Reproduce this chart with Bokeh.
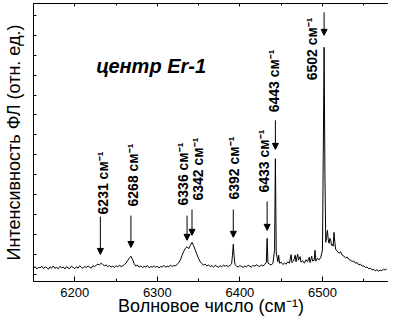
from math import pi
from bokeh.plotting import figure
from bokeh.models import (ColumnDataSource, LinearAxis, SingleIntervalTicker,
                          FixedTicker, Arrow, NormalHead, Label)
from bokeh.core.properties import value
from bokeh.embed import file_html
from bokeh.resources import INLINE

# ---- spectrum (wavenumber, cm^-1 ; PL intensity, arb. units) ----
wavenumber = [
    6150, 6152, 6154, 6156, 6158, 6160, 6162, 6164, 6166, 6168, 6170, 6172, 6174, 6176, 6178,
    6180, 6182, 6184, 6186, 6188, 6190, 6192, 6194, 6196, 6198, 6200, 6202, 6204, 6206, 6208,
    6210, 6212, 6214, 6216, 6218, 6220, 6222, 6224, 6226, 6228, 6230, 6232, 6234, 6236, 6238,
    6240, 6242, 6244, 6246, 6248, 6250, 6252, 6254, 6256, 6258, 6260, 6262, 6264, 6266, 6268,
    6270, 6272, 6274, 6276, 6278, 6280, 6282, 6284, 6286, 6288, 6290, 6292, 6294, 6296, 6298,
    6300, 6302, 6304, 6306, 6308, 6310, 6312, 6314, 6316, 6318, 6320, 6322, 6324, 6326, 6328,
    6330, 6332, 6334, 6336, 6338, 6340, 6342, 6344, 6346, 6348, 6350, 6352, 6354, 6356, 6358,
    6360, 6362, 6364, 6366, 6368, 6370, 6372, 6374, 6376, 6378, 6380, 6382, 6384, 6386, 6388,
    6390, 6391, 6392, 6393, 6394, 6396, 6398, 6400, 6402, 6404, 6406, 6408, 6410, 6412, 6414,
    6416, 6418, 6420, 6422, 6424, 6426, 6428, 6430, 6432, 6433, 6434, 6436, 6438, 6440, 6442,
    6443, 6444, 6446, 6447, 6448, 6450, 6452, 6454, 6456, 6458, 6460, 6462, 6463, 6465, 6467,
    6468, 6470, 6471, 6473, 6474, 6476, 6478, 6480, 6482, 6484, 6485, 6487, 6488, 6490, 6491,
    6492, 6494, 6496, 6498, 6500, 6501, 6502, 6503, 6504, 6505, 6506, 6507, 6508, 6509, 6510,
    6511, 6512, 6513, 6514, 6515, 6516, 6518, 6520, 6522, 6524, 6526, 6528, 6530, 6532, 6534,
    6536, 6538, 6540, 6542, 6544, 6546, 6548, 6550, 6552, 6554, 6556, 6558, 6560, 6562, 6564,
    6566, 6568, 6570, 6572, 6574, 6576, 6578,
]
intensity = [
    0.30, 0.38, 0.26, 0.35, 0.31, 0.40, 0.28, 0.36, 0.33, 0.25, 0.37, 0.30, 0.41, 0.29, 0.34,
    0.27, 0.39, 0.32, 0.36, 0.26, 0.38, 0.31, 0.29, 0.40, 0.33, 0.28, 0.37, 0.30, 0.42, 0.34,
    0.29, 0.39, 0.33, 0.41, 0.35, 0.30, 0.43, 0.38, 0.45, 0.50, 0.47, 0.55, 0.48, 0.42, 0.46,
    0.38, 0.43, 0.36, 0.40, 0.34, 0.42, 0.37, 0.44, 0.39, 0.41, 0.48, 0.55, 0.68, 0.80, 0.90,
    0.74, 0.52, 0.40, 0.46, 0.35, 0.41, 0.33, 0.39, 0.36, 0.43, 0.32, 0.38, 0.35, 0.42, 0.34,
    0.40, 0.31, 0.38, 0.36, 0.44, 0.35, 0.40, 0.37, 0.45, 0.39, 0.43, 0.41, 0.50, 0.58, 0.72,
    0.95, 1.15, 1.30, 1.38, 1.28, 1.45, 1.60, 1.42, 1.20, 0.98, 0.78, 0.62, 0.52, 0.45, 0.50,
    0.41, 0.46, 0.38, 0.43, 0.36, 0.44, 0.39, 0.35, 0.42, 0.37, 0.45, 0.40, 0.43, 0.38, 0.44,
    0.52, 0.95, 1.50, 0.90, 0.48, 0.40, 0.36, 0.43, 0.38, 0.34, 0.41, 0.37, 0.45, 0.39, 0.36,
    0.44, 0.40, 0.47, 0.42, 0.38, 0.46, 0.41, 0.48, 0.60, 1.80, 0.55, 0.50, 0.46, 0.55, 1.20,
    5.80, 1.10, 0.62, 0.95, 0.55, 0.60, 0.48, 0.56, 0.50, 0.62, 0.55, 0.98, 0.58, 0.66, 0.95,
    0.62, 1.00, 0.70, 0.88, 0.60, 0.68, 0.55, 0.72, 0.62, 0.85, 0.58, 0.90, 0.66, 0.70, 1.20,
    0.65, 0.80, 0.72, 0.85, 1.20, 6.00, 11.40, 5.00, 1.60, 1.90, 2.20, 1.75, 1.55, 1.80, 1.70,
    1.45, 1.50, 1.40, 2.10, 1.60, 1.25, 1.15, 1.05, 1.12, 0.95, 0.90, 0.82, 0.86, 0.74, 0.70,
    0.64, 0.66, 0.55, 0.58, 0.47, 0.50, 0.40, 0.42, 0.33, 0.36, 0.27, 0.30, 0.21, 0.24, 0.17,
    0.22, 0.15, 0.20, 0.18, 0.24, 0.21, 0.27,
]

# ---- peak annotations ----
peaks = [6231, 6268, 6336, 6342, 6392, 6433, 6443, 6502]
peak_labels = ["6231 см⁻¹", "6268 см⁻¹", "6336 см⁻¹", "6342 см⁻¹",
               "6392 см⁻¹", "6433 см⁻¹", "6443 см⁻¹", "6502 см⁻¹"]
arrow_from = [2.89, 2.94, 2.94, 3.25, 3.25, 3.66, 7.73, 13.16]
arrow_to = [0.99, 1.34, 1.70, 1.95, 1.85, 2.20, 6.27, 12.00]
label_x = [6234.2, 6270.2, 6330.8, 6348.8, 6393.2, 6429.2, 6441.2, 6487.4]
label_y = [3.00, 3.40, 3.45, 3.70, 3.75, 4.10, 8.13, 9.74]

x_ticks_interval = 100
y_ticks = list(range(14))

FONT = "Liberation Sans"

p = figure(width=388, height=318, x_range=(6150, 6580), y_range=(-0.37, 13.6),
           output_backend="svg", toolbar_location=None,
           min_border_left=30, min_border_right=0, min_border_top=3, min_border_bottom=37)
p.outline_line_color = None
p.xgrid.visible = False
p.ygrid.visible = False
p.background_fill_color = "white"

# bottom axis
xa = p.xaxis[0]
xa.ticker = SingleIntervalTicker(interval=x_ticks_interval, num_minor_ticks=2)
xa.major_tick_in = 5
xa.major_tick_out = 0
xa.minor_tick_in = 3
xa.minor_tick_out = 0
xa.major_label_standoff = 6
xa.major_label_text_font = FONT
xa.major_label_text_font_size = "13px"
xa.major_label_text_color = "black"
xa.axis_label = "Волновое число (см⁻¹)"
xa.axis_label_text_font = FONT
xa.axis_label_text_font_size = "18px"
xa.axis_label_text_font_style = "normal"
xa.axis_label_text_color = "black"
xa.axis_label_standoff = -4
xa.axis_line_color = "black"

# left axis
ya = p.yaxis[0]
ya.ticker = FixedTicker(ticks=y_ticks)
ya.major_tick_in = 3
ya.major_tick_out = 0
ya.minor_tick_line_color = None
ya.major_label_text_font_size = "1px"
ya.major_label_text_color = None
ya.major_label_standoff = 0
ya.axis_label = "Интенсивность ФЛ (отн. ед.)"
ya.axis_label_text_font = FONT
ya.axis_label_text_font_size = "18px"
ya.axis_label_text_font_style = "normal"
ya.axis_label_text_color = "black"
ya.axis_label_standoff = 10
ya.axis_line_color = "black"

# top axis (ticks only)
top = LinearAxis(ticker=SingleIntervalTicker(interval=x_ticks_interval, num_minor_ticks=2))
top.major_tick_in = 3
top.major_tick_out = 0
top.minor_tick_in = 2
top.minor_tick_out = 0
top.major_label_text_font_size = "1px"
top.major_label_text_color = None
top.major_label_standoff = 0
top.axis_line_color = "black"
p.add_layout(top, "above")

src = ColumnDataSource(dict(x=wavenumber, y=intensity))
p.line("x", "y", source=src, line_color="black", line_width=1)

asrc = ColumnDataSource(dict(x=peaks, y0=arrow_from, y1=arrow_to))
p.add_layout(Arrow(end=NormalHead(size=6, fill_color="black", line_color="black", line_width=1),
                   x_start="x", y_start="y0", x_end="x", y_end="y1",
                   source=asrc, line_color="black", line_width=1))

lsrc = ColumnDataSource(dict(x=label_x, y=label_y, t=peak_labels))
p.text("x", "y", text="t", source=lsrc, angle=pi / 2,
       text_font=value(FONT), text_font_style="bold", text_font_size="14px",
       text_align="left", text_baseline="middle", text_color="black")

p.add_layout(Label(x=6226, y=10.45, text="центр Er-1", text_font=FONT,
                   text_font_style="bold italic", text_font_size="20px",
                   text_baseline="middle", text_align="left", text_color="black"))

open("out.html", "w").write(file_html(p, INLINE))
